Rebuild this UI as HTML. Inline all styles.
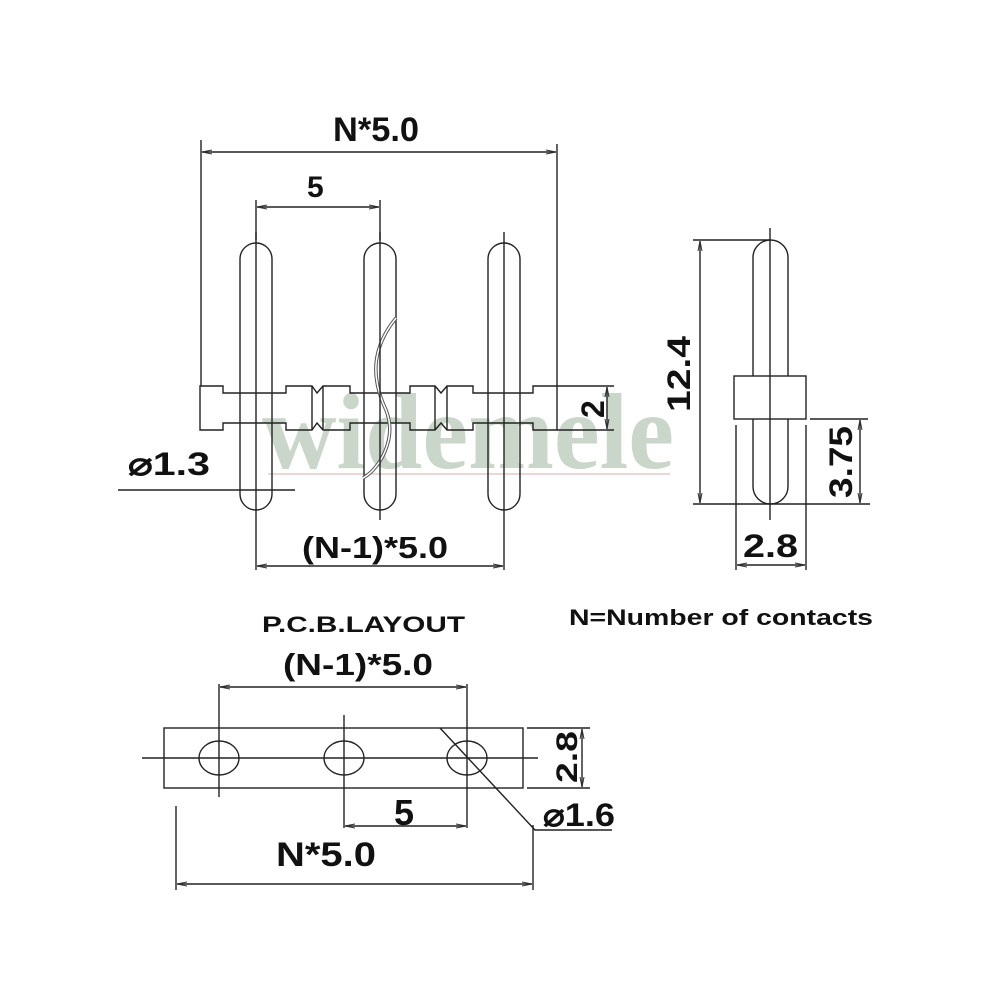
<!DOCTYPE html>
<html><head><meta charset="utf-8"><style>
html,body{margin:0;padding:0;background:#fff;}
svg{display:block}
text{font-family:"Liberation Sans",Arial,sans-serif;fill:#111;font-weight:bold}
</style></head><body>
<svg width="1000" height="1000" viewBox="0 0 1000 1000" xmlns="http://www.w3.org/2000/svg">
<defs>
<marker id="a" viewBox="0 0 10 6" refX="10" refY="3" markerWidth="10" markerHeight="6" orient="auto-start-reverse" markerUnits="userSpaceOnUse">
<path d="M0,1 L10,3 L0,5" fill="none" stroke="#333" stroke-width="1"/>
</marker>
</defs>
<text x="262" y="468" font-size="108" textLength="412" lengthAdjust="spacingAndGlyphs" style="font-family:'Liberation Serif',serif;fill:#c3d2c3;fill-opacity:0.9;font-weight:bold">widemele</text>
<line x1="268" y1="474" x2="670" y2="474" stroke="#e8c8c8" stroke-width="1.5"/>

<g stroke="#222" stroke-width="1.4" fill="none">
<rect x="240" y="243" width="32" height="267" rx="16"/>
<rect x="364" y="243" width="32" height="267" rx="16"/>
<rect x="488" y="243" width="32" height="267" rx="16"/>
<path d="M200,386 H223 V393 H286 V386 H312 L317,393 L323,386 H350 V393 H410 V386 H435 L441,393 L447,386 H473 V393 H533 V386 H557 V430 H533 V423 H473 V430 H447 L441,423 L435,430 H410 V423 H350 V430 H323 L317,423 L312,430 H286 V423 H223 V430 H200 Z"/>
<line x1="312" y1="386" x2="312" y2="430"/>
<line x1="323" y1="386" x2="323" y2="430"/>
<line x1="435" y1="386" x2="435" y2="430"/>
<line x1="447" y1="386" x2="447" y2="430"/>
<path d="M396,318 C370,350 372,380 386,410 C398,440 378,470 363,478" stroke="#555" stroke-width="3.5"/>
<path d="M396,318 C370,350 372,380 386,410 C398,440 378,470 363,478" stroke="#fff" stroke-width="1.5"/>
<line x1="256" y1="232" x2="256" y2="570"/>
<line x1="380" y1="232" x2="380" y2="520"/>
<line x1="504" y1="232" x2="504" y2="570"/>
<line x1="380" y1="200" x2="380" y2="240"/>
<line x1="256" y1="200" x2="256" y2="240"/>
<line x1="201" y1="140" x2="201" y2="386"/>
<line x1="557" y1="144" x2="557" y2="386"/>
<line x1="202" y1="152" x2="556" y2="152" marker-start="url(#a)" marker-end="url(#a)"/>
<line x1="257" y1="207" x2="379" y2="207" marker-start="url(#a)" marker-end="url(#a)"/>
<line x1="557" y1="386" x2="614" y2="386"/>
<line x1="557" y1="430" x2="614" y2="430"/>
<line x1="607" y1="387" x2="607" y2="429" marker-start="url(#a)" marker-end="url(#a)"/>
<line x1="118" y1="490" x2="295" y2="490"/>
<line x1="257" y1="566" x2="503" y2="566" marker-start="url(#a)" marker-end="url(#a)"/>

<rect x="753" y="240" width="35" height="264" rx="17.5"/>
<rect x="734" y="376" width="72" height="43" fill="#fff"/>
<line x1="770" y1="228" x2="770" y2="520"/>
<line x1="693" y1="240" x2="770" y2="240"/>
<line x1="693" y1="504" x2="870" y2="504"/>
<line x1="700" y1="241" x2="700" y2="503" marker-start="url(#a)" marker-end="url(#a)"/>
<line x1="810" y1="419" x2="868" y2="419"/>
<line x1="860" y1="420" x2="860" y2="503" marker-start="url(#a)" marker-end="url(#a)"/>
<line x1="736" y1="425" x2="736" y2="570"/>
<line x1="806" y1="425" x2="806" y2="570"/>
<line x1="737" y1="565" x2="805" y2="565" marker-start="url(#a)" marker-end="url(#a)"/>

<line x1="220" y1="687" x2="466" y2="687" marker-start="url(#a)" marker-end="url(#a)"/>
<rect x="164" y="728" width="359" height="60"/>
<ellipse cx="219" cy="758" rx="20" ry="17"/>
<ellipse cx="344" cy="758" rx="20" ry="17"/>
<ellipse cx="467" cy="758" rx="20" ry="17"/>
<line x1="142" y1="758" x2="538" y2="758"/>
<line x1="219" y1="684" x2="219" y2="797"/>
<line x1="344" y1="715" x2="344" y2="828"/>
<line x1="467" y1="684" x2="467" y2="828"/>
<line x1="527" y1="728" x2="590" y2="728"/>
<line x1="527" y1="788" x2="590" y2="788"/>
<line x1="582" y1="729" x2="582" y2="787" marker-start="url(#a)" marker-end="url(#a)"/>
<line x1="345" y1="826" x2="466" y2="826" marker-start="url(#a)" marker-end="url(#a)"/>
<line x1="176" y1="806" x2="176" y2="890"/>
<line x1="533" y1="825" x2="533" y2="890"/>
<line x1="177" y1="884" x2="532" y2="884" marker-start="url(#a)" marker-end="url(#a)"/>
<polyline points="440,728 535,830 612,830"/>
</g>

<text x="333" y="141" font-size="34" textLength="86" lengthAdjust="spacingAndGlyphs">N*5.0</text>
<text x="307" y="197" font-size="30">5</text>
<text transform="translate(604,418) rotate(-90)" font-size="32">2</text>
<text x="128" y="475" font-size="32" textLength="82" lengthAdjust="spacingAndGlyphs">⌀1.3</text>
<text x="302" y="558" font-size="31" textLength="146" lengthAdjust="spacingAndGlyphs">(N-1)*5.0</text>
<text transform="translate(690,412) rotate(-90)" font-size="32" textLength="76" lengthAdjust="spacingAndGlyphs">12.4</text>
<text transform="translate(852,498) rotate(-90)" font-size="32" textLength="72" lengthAdjust="spacingAndGlyphs">3.75</text>
<text x="743" y="557" font-size="32" textLength="55" lengthAdjust="spacingAndGlyphs">2.8</text>
<text x="569" y="625" font-size="22" textLength="304" lengthAdjust="spacingAndGlyphs">N=Number of contacts</text>
<text x="262" y="632" font-size="22" textLength="203" lengthAdjust="spacingAndGlyphs">P.C.B.LAYOUT</text>
<text x="283" y="675" font-size="31" textLength="150" lengthAdjust="spacingAndGlyphs">(N-1)*5.0</text>
<text transform="translate(577,783) rotate(-90)" font-size="30" textLength="52" lengthAdjust="spacingAndGlyphs">2.8</text>
<text x="394" y="825" font-size="36">5</text>
<text x="543" y="826" font-size="32" textLength="72" lengthAdjust="spacingAndGlyphs">⌀1.6</text>
<text x="276" y="866" font-size="34" textLength="100" lengthAdjust="spacingAndGlyphs">N*5.0</text>
</svg>
</body></html>
